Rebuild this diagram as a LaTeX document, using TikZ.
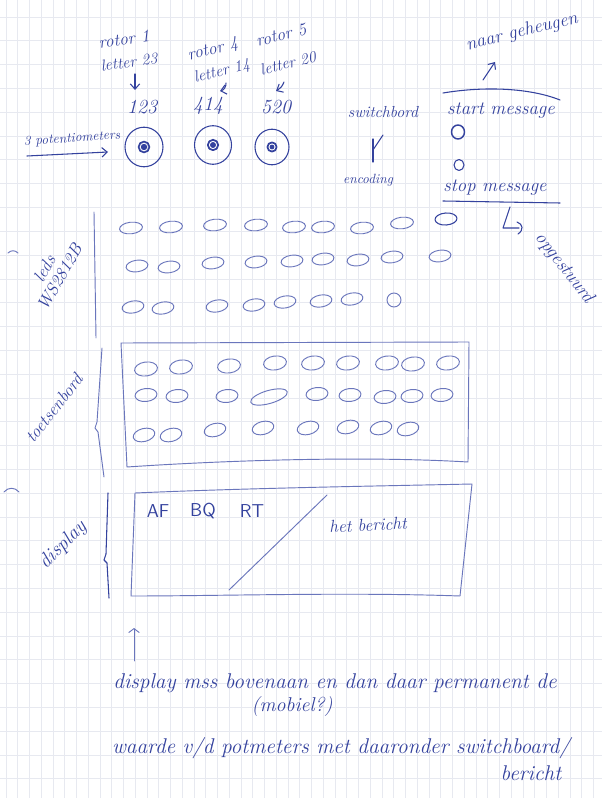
\documentclass[tikz,border=0pt]{standalone}
\usetikzlibrary{arrows.meta}
\definecolor{inkblue}{HTML}{34429E}
\definecolor{inkpale}{HTML}{6A76BC}
\definecolor{gridline}{HTML}{E7E9F0}
% oval drawn freehand: [style]{x}{y}{rx}{ry}{tilt}
\newcommand{\drawoval}[6][palepen]{\draw[#1,rotate around={#6:(#2,#3)}] (#2,#3) ellipse [x radius=#4, y radius=#5];}
\begin{document}
\begin{tikzpicture}[x=0.75pt,y=-0.75pt,
  pen/.style={draw=inkblue,line width=0.8pt,line cap=round,line join=round},
  palepen/.style={draw=inkpale,line width=0.7pt,line cap=round,line join=round},
  hand/.style={text=inkblue,inner sep=0pt,font=\fontsize{#1}{#1}\selectfont\itshape},
  hand/.default=13,
  caps/.style={text=inkblue,inner sep=0pt,font=\fontsize{#1}{#1}\selectfont\sffamily},
  barb/.style={-{Straight Barb[length=4pt,width=7pt]}},
]
% paper
\fill[white] (0,0) rectangle (602,798);
\useasboundingbox (0,0) rectangle (602,798);
\foreach \i in {0,...,50} {\draw[gridline,line width=0.45pt] ({6+11.75*\i},0) -- ({6+11.75*\i},798);}
\foreach \j in {0,...,33} {\draw[gridline,line width=0.45pt] (0,{17+23.8*\j}) -- (602,{17+23.8*\j});}

% ---- rotor labels ----
\node[hand=13,rotate=8] (rotorA) at (124,39) {rotor 1};
\node[hand=12,rotate=8] (letterA) at (129,62) {letter 23};
\node[hand=15] (valA) at (142,107) {123};
\node[hand=13,rotate=14] (rotorB) at (213,50) {rotor 4};
\node[hand=12,rotate=14] (letterB) at (222,72) {letter 14};
\node[hand=15] (valB) at (208,106) {414};
\node[hand=13,rotate=14] (rotorC) at (281,35) {rotor 5};
\node[hand=12,rotate=14] (letterC) at (288,63) {letter 20};
\node[hand=15] (valC) at (276,107) {520};
\coordinate (aA1) at (135,74); \coordinate (aA2) at (135,90);
\draw[pen,barb] (aA1) -- (aA2);
\coordinate (aB1) at (226,83); \coordinate (aB2) at (220,91);
\draw[pen,barb] (aB1) to[bend left=40] (aB2);
\coordinate (aC1) at (284,82); \coordinate (aC2) at (276,91);
\draw[pen,barb] (aC1) to[bend left=20] (aC2);

% ---- potentiometers ----
\node[hand=10,rotate=4] (potm) at (72,139) {3 potentiometers};
\coordinate (potArrow) at (27,156);
\coordinate (potA) at (108,152);
\draw[pen,barb] (potArrow) -- (potA);
\foreach \cx/\cy/\r/\d in {144/147/19/3.2, 213/145/18.5/3, 272/147/17/2.4}{
  \draw[pen] (\cx,\cy) ellipse [x radius=\r, y radius=\r+0.8];
  \draw[pen,line width=1.3pt] (\cx,\cy) circle [radius=\d+2.2];
  \fill[inkblue] (\cx,\cy) circle [radius=\d];
}

% ---- switchboard / encoding ----
\node[hand=12] (switch) at (383,112) {switchbord};
\node[hand=10] (enc) at (368,180) {encoding};
\coordinate (yTop) at (383,135); \coordinate (yMid) at (373,150); \coordinate (yBot) at (373,162);
\draw[pen] (yTop) -- (yMid);
\draw[pen] (373,139) -- (yBot);

% ---- message buttons ----
\node[hand=14,rotate=14] (mem) at (522,32) {naar geheugen};
\coordinate (memA1) at (483,80); \coordinate (memA2) at (495,62);
\draw[pen,barb] (memA1) -- (memA2);
\draw[pen] (443,93) .. controls (485,86) and (530,88) .. (560,100);
\node[hand=14] (start) at (501,111) {start message};
\draw[pen,line width=1.1pt] (458,132) ellipse [x radius=6.5, y radius=7];
\draw[pen] (459,165) ellipse [x radius=5, y radius=5.5];
\node[hand=14] (stop) at (495,188) {stop message};
\draw[pen] (443,201) -- (560,203);
\coordinate (sentA) at (510,207); \coordinate (sentB) at (503,228); \coordinate (sentC) at (524,229);
\draw[pen] (sentA) -- (sentB) -- (519,228);
\draw[pen] (517,222) .. controls (523,224) and (524,230) .. (518,234);
\node[hand=14,rotate=-52] (sent) at (564,268) {opgestuurd};

% ---- LED strip ----
\node[hand=13,rotate=60,align=center] (leds) at (52,273) {leds\\WS2812B};
\draw[palepen] (8,253) .. controls (11,250) and (15,250) .. (18,253);
\draw[palepen] (94,212) -- (96,338);
\foreach \x/\y in {131/228,171/227,215/225,256/225,294/227,323/227,362/228,402/223}
  {\drawoval{\x}{\y}{11.5}{5.8}{6}}
\drawoval[pen]{446}{219}{11}{6}{4}
\foreach \x/\y in {137/266,169/267,213/263,256/262,292/261,323/259,358/260,392/257,440/256}
  {\drawoval{\x}{\y}{11}{5.8}{8}}
\foreach \x/\y in {133/307,163/308,217/306,254/305,285/302,321/301,352/299}
  {\drawoval{\x}{\y}{11}{6}{10}}
\drawoval{394}{300}{7}{7}{0}

% ---- keyboard ----
\node[hand=13,rotate=52] (keys) at (54,408) {toetsenbord};
\draw[palepen] (102,348) -- (97,422) -- (95,428) -- (98,432) -- (104,477);
\draw[palepen] (121,343) -- (469,342) -- (468,462) .. controls (350,455) and (200,462) .. (127,467) -- cycle;
\foreach \x/\y in {146/369,181/367,229/366,275/363,313/363,348/363,387/363,413/364,448/363}
  {\drawoval{\x}{\y}{11.5}{7}{8}}
\foreach \x/\y in {146/395,177/396,227/396,317/394,350/395,385/397,412/396,442/395}
  {\drawoval{\x}{\y}{11}{6.5}{6}}
\drawoval{269}{397}{19}{6.5}{16}
\foreach \x/\y in {144/435,171/435,215/430,263/428,308/428,348/427,381/428,408/429}
  {\drawoval{\x}{\y}{11}{6.5}{14}}

% ---- display ----
\node[hand=15,rotate=45] (disp) at (63,545) {display};
\draw[palepen] (4,492) .. controls (8,487) and (15,487) .. (19,492);
\draw[pen] (108,493) -- (106,554) -- (104,560) -- (107,563) -- (109,598);
\draw[palepen] (135,493) .. controls (250,488) and (380,486) .. (472,484) -- (460,596) .. controls (350,592) and (220,596) .. (131,596) -- cycle;
\node[caps=14] (af) at (158,511) {AF};
\node[caps=14] (bq) at (203,511) {BQ};
\node[caps=14] (rt) at (252,511) {RT};
\coordinate (diagA) at (327,495); \coordinate (diagB) at (229,590);
\draw[palepen] (diagA) -- (diagB);
\node[hand=13,rotate=3] (msg) at (368,525) {het bericht};

% ---- notes ----
\coordinate (noteA) at (134,661); \coordinate (noteB) at (134,628);
\draw[palepen,-{Straight Barb[length=3pt,width=8pt]}] (noteA) -- (noteB);
\node[hand=16] (noteL1) at (335,683) {display mss bovenaan en dan daar permanent de};
\node[hand=15] (noteL2) at (292,707) {(mobiel?)};
\node[hand=16] (noteL3) at (341,748) {waarde v/d potmeters met daaronder switchboard/};
\node[hand=16] (noteL4) at (531,773) {bericht};
\end{tikzpicture}
\end{document}
